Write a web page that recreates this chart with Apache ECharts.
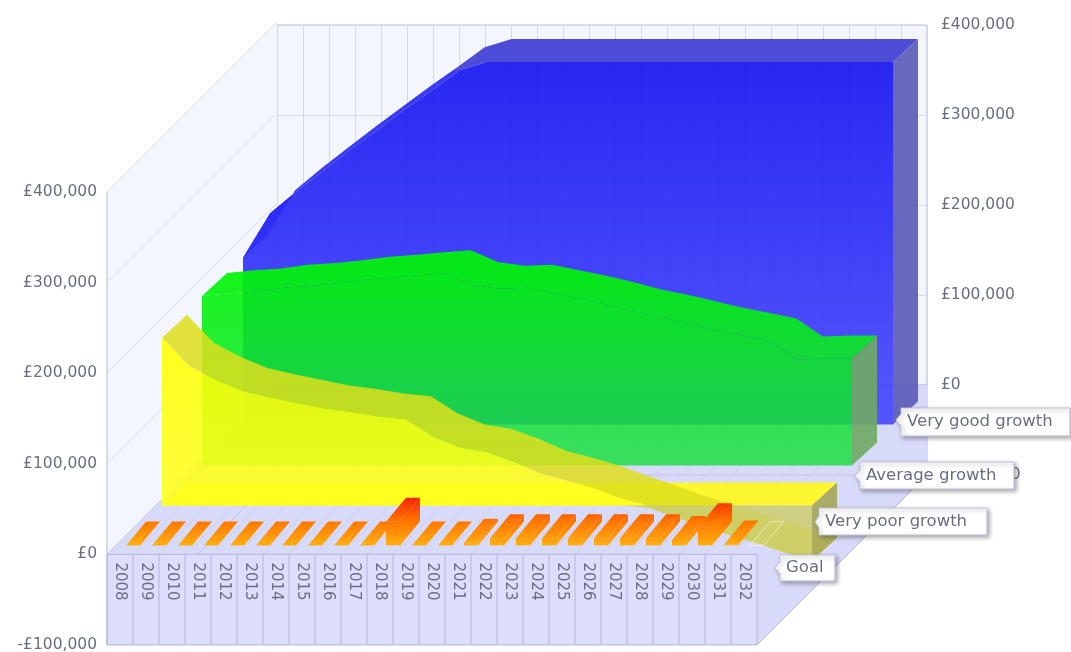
<!DOCTYPE html>
<html>
<head>
<meta charset="utf-8">
<style>html,body{margin:0;padding:0;background:#fff}#main{width:1071px;height:652px}</style>
<script src="https://cdn.jsdelivr.net/npm/echarts@6/dist/echarts.min.js"></script>
</head>
<body>
<div id="main"></div>
<script>
// values
const years = ['2008','2009','2010','2011','2012','2013','2014','2015','2016','2017','2018','2019','2020','2021','2022','2023','2024','2025','2026','2027','2028','2029','2030','2031','2032'];
const veryGood = [184000,233000,258000,281000,304000,326000,348000,369000,391000,400000,400000,400000,400000,400000,400000,400000,400000,400000,400000,400000,400000,400000,400000,400000,400000];
const average = [187000,190000,192000,196000,198000,201000,205000,207000,210000,212000,199000,195000,196000,190000,184000,177000,169000,163000,156000,149000,143000,137000,117000,118000,118000];
const veryPoor = [185000,154000,138000,126000,119000,113000,107000,103000,98000,95000,76000,64000,59000,48000,35000,27000,18000,7000,-3000,-14000,-23000,-33000,-42000,-52000,-61000];
const goal = [0,0,0,0,0,0,0,0,0,0,26000,0,0,3000,8000,8000,8000,8000,8000,8000,8000,6000,20000,1000,0];
const yTicks = [-100000,0,100000,200000,300000,400000];
const calloutNames = ['Very good growth','Average growth','Very poor growth','Goal'];

const DEPTH = 170;
const FONT = 'DejaVu Sans';
const TEXT = '#6a6e80';
const LINE = '#b4b6d6';
const LG = echarts.graphic.LinearGradient;

function money(v) {
  const s = Math.abs(v).toString().replace(/\B(?=(\d{3})+$)/g, ',');
  return (v < 0 ? '-£' : '£') + s;
}

function at(api, x, v, dx, dy) {
  const p = api.coord([x, v]);
  return [p[0] + dx, p[1] - dy];
}

function poly(points, fill, stroke) {
  return {
    type: 'polygon',
    shape: { points: points },
    style: { fill: fill, stroke: stroke || null, lineWidth: stroke ? 1 : 0 }
  };
}

function wire(a, b, color) {
  return {
    type: 'line',
    shape: { x1: a[0], y1: a[1], x2: b[0], y2: b[1] },
    style: { stroke: color || LINE, lineWidth: 1 }
  };
}

// floor, side wall and the box under zero
function renderWalls(params, api) {
  const c = [];
  const n = years.length;
  c.push(poly([at(api,0,400000,0,0), at(api,0,400000,DEPTH,DEPTH), at(api,0,-100000,DEPTH,DEPTH), at(api,0,-100000,0,0)], '#f4f6fe'));
  yTicks.forEach(v => c.push(wire(at(api,0,v,0,0), at(api,0,v,DEPTH,DEPTH), '#dcdeee')));
  c.push(poly([at(api,0,0,0,0), at(api,n,0,0,0), at(api,n,0,DEPTH,DEPTH), at(api,0,0,DEPTH,DEPTH)], '#d8daf9'));
  c.push(poly([at(api,n,0,0,0), at(api,n,0,DEPTH,DEPTH), at(api,n,-100000,DEPTH,DEPTH), at(api,n,-100000,0,0)], '#d8daf9'));
  c.push(poly([at(api,0,0,0,0), at(api,0,0,DEPTH,DEPTH), at(api,0,-100000,DEPTH,DEPTH), at(api,0,-100000,0,0)], '#d8daf9'));
  c.push(wire(at(api,0,-100000,0,0), at(api,0,-100000,DEPTH,DEPTH), '#c0c2e4'));
  c.push(wire(at(api,0,-100000,DEPTH,DEPTH), at(api,n,-100000,DEPTH,DEPTH), '#c0c2e4'));
  c.push(wire(at(api,0,0,DEPTH,DEPTH), at(api,n,0,DEPTH,DEPTH), '#c0c2e4'));
  for (let i = 0; i <= n; i++) {
    c.push(wire(at(api,i,0,0,0), at(api,i,0,DEPTH,DEPTH), '#cdcff2'));
  }
  c.push(poly([at(api,0,0,0,0), at(api,n,0,0,0), at(api,n,-100000,0,0), at(api,0,-100000,0,0)], '#dcdefb', LINE));
  for (let i = 1; i < n; i++) {
    c.push(wire(at(api,i,0,0,0), at(api,i,-100000,0,0)));
  }
  c.push(wire(at(api,0,400000,0,0), at(api,0,-100000,0,0)));
  c.push(wire(at(api,n,-100000,0,0), at(api,n,-100000,DEPTH,DEPTH)));
  return { type: 'group', children: c };
}

// year labels sit on the front of the box, so they draw after it
function renderYear(params, api) {
  const p = api.coord([api.value(0), 0]);
  return {
    type: 'text', x: p[0], y: p[1] + 8, rotation: -Math.PI / 2,
    style: { text: years[params.dataIndex], fill: TEXT, fontFamily: FONT, fontSize: 15, align: 'left', verticalAlign: 'middle' }
  };
}

// one area ribbon: base plane, top strip, end face, front face
function ribbon(values, dy, look) {
  return function (params, api) {
    const n = values.length;
    const dx = dy + 6;
    const bx = dx + 25, by = dy + 23;
    const xs = values.map((v, i) => i * n / (n - 1));
    const last = xs[n - 1];
    const front = values.map((v, i) => at(api, xs[i], v, dx, dy));
    const back = values.map((v, i) => at(api, xs[i], v, bx, by));
    const c = [];
    if (look.base) {
      c.push(poly([at(api,0,0,dx,dy), at(api,last,0,dx,dy), at(api,last,0,bx,by), at(api,0,0,bx,by)], look.base));
    }
    const top = at(api, 0, Math.max.apply(null, values), dx, dy)[1];
    const zero = at(api, 0, 0, dx, dy)[1];
    const face = new LG(0, top, 0, zero, [{ offset: 0, color: look.faceTop }, { offset: 1, color: look.faceBottom }], true);
    let strip = look.strip;
    if (look.stripTop) {
      strip = new LG(0, top - 23, 0, top + 10, [{ offset: 0, color: look.stripTop }, { offset: 0.9, color: look.stripTop }, { offset: 1, color: look.strip }], true);
    }
    c.push(poly(front.concat(back.slice().reverse()), strip || face));
    c.push(poly([front[n-1], back[n-1], at(api,last,0,bx,by), at(api,last,0,dx,dy)], look.side));
    const upper = values.map((v, i) => at(api, xs[i], Math.max(v, 0), dx, dy));
    c.push(poly(upper.concat([at(api,last,0,dx,dy), at(api,0,0,dx,dy)]), face));
    if (values.some(v => v < 0)) {
      const lower = values.map((v, i) => at(api, xs[i], Math.min(v, 0), dx, dy));
      c.push(poly(lower.concat([at(api,last,0,dx,dy), at(api,0,0,dx,dy)]), look.under));
    }
    return { type: 'group', children: c };
  };
}

// goal columns, one per year
function renderGoal(params, api) {
  const x = api.value(0), v = api.value(1);
  const a = at(api, x, v, 6, 9), b = at(api, x, v, 20, 9);
  const a0 = at(api, x, 0, 6, 9), b0 = at(api, x, 0, 20, 9);
  const c = at(api, x, v, 40, 33), d = at(api, x, v, 26, 33);
  const c0 = at(api, x, 0, 40, 33);
  if (params.dataIndex === years.length - 1) {
    return poly([a, b, c, d], 'rgba(255,255,255,0.05)', 'rgba(255,255,255,0.55)');
  }
  const fill = new LG(0, a0[1], 0, a0[1] - 50, [
    { offset: 0, color: '#ffae10' }, { offset: 0.5, color: '#ff7400' }, { offset: 1, color: '#f41c08' }
  ], true);
  return {
    type: 'group',
    children: [
      poly([b, c, c0, b0], fill),
      poly([a, b, c, d], fill),
      poly([a0, b0, b, a], fill)
    ]
  };
}

// white pointer box at the end of a series
function callout(name, tipX, tipY, x, y, w, h) {
  return {
    type: 'group',
    children: [
      {
        type: 'polygon', z: 100,
        shape: { points: [[tipX, tipY], [x, tipY - 6], [x, y], [x + w, y], [x + w, y + h], [x, y + h], [x, tipY + 6]] },
        style: { fill: '#fff', stroke: '#c0c2d8', lineWidth: 1, shadowBlur: 4, shadowOffsetX: 2, shadowOffsetY: 2, shadowColor: 'rgba(60,60,60,0.45)' }
      },
      {
        type: 'text', z: 101, x: x + 6, y: y + h / 2,
        style: { text: name, fill: TEXT, fontFamily: FONT, fontSize: 16.5, verticalAlign: 'middle' }
      }
    ]
  };
}

const one = [[0, 0]];
const option = {
  animation: false,
  backgroundColor: '#fff',
  grid: [
    { left: 107, top: 192, width: 650, height: 453, outerBoundsMode: 'none' },
    { left: 277, top: 25, width: 650, height: 450, outerBoundsMode: 'none', show: true, backgroundColor: '#f4f6fe', borderColor: LINE, borderWidth: 1 }
  ],
  xAxis: [
    {
      type: 'category', gridIndex: 0, data: years,
      axisLine: { show: false }, axisTick: { show: false }, axisLabel: { show: false }
    },
    { type: 'value', gridIndex: 0, min: 0, max: years.length, show: false, position: 'top' },
    {
      type: 'category', gridIndex: 1, data: years, position: 'top',
      axisLine: { show: false }, axisTick: { show: false }, axisLabel: { show: false },
      splitLine: { show: true, interval: 0, lineStyle: { color: '#d6d8ea' } }
    }
  ],
  yAxis: [
    {
      type: 'value', gridIndex: 0, min: -100000, max: 400000, interval: 100000,
      axisLine: { show: false }, axisTick: { show: false }, splitLine: { show: false },
      axisLabel: { formatter: money, color: TEXT, fontFamily: FONT, fontSize: 15.5, margin: 10, padding: [0, 0, 2, 0] }
    },
    {
      type: 'value', gridIndex: 1, min: -100000, max: 400000, interval: 100000, position: 'right',
      axisLine: { show: false }, axisTick: { show: false },
      splitLine: { show: true, lineStyle: { color: '#d6d8ea' } },
      axisLabel: { formatter: money, color: TEXT, fontFamily: FONT, fontSize: 15.5, margin: 14, padding: [0, 0, 3, 0] }
    }
  ],
  series: [
    { type: 'custom', name: 'walls', xAxisIndex: 1, yAxisIndex: 0, data: one, renderItem: renderWalls, silent: true },
    {
      type: 'custom', name: 'years', xAxisIndex: 1, yAxisIndex: 0, silent: true,
      data: years.map((y, i) => [i + 0.5, 0]), renderItem: renderYear
    },
    {
      type: 'custom', name: calloutNames[0], xAxisIndex: 1, yAxisIndex: 0, data: one,
      renderItem: ribbon(veryGood, 130, {
        strip: 'rgba(50,50,238,0.96)', stripTop: 'rgba(70,70,214,0.96)', side: 'rgba(96,96,186,0.95)',
        faceTop: 'rgba(22,22,240,0.92)', faceBottom: 'rgba(74,74,255,0.92)'
      })
    },
    {
      type: 'custom', name: calloutNames[1], xAxisIndex: 1, yAxisIndex: 0, data: one,
      renderItem: ribbon(average, 89, {
        side: 'rgba(112,170,100,0.92)',
        faceTop: 'rgba(0,245,5,0.92)', faceBottom: 'rgba(24,222,64,0.82)'
      })
    },
    {
      type: 'custom', name: calloutNames[2], xAxisIndex: 1, yAxisIndex: 0, data: one,
      renderItem: ribbon(veryPoor, 49, {
        base: 'rgba(255,250,30,0.92)', strip: 'rgba(222,222,28,0.85)', side: 'rgba(168,168,92,0.92)',
        under: 'rgba(205,205,110,0.85)',
        faceTop: 'rgba(255,255,0,0.88)', faceBottom: 'rgba(255,255,30,0.88)'
      })
    },
    {
      type: 'custom', name: calloutNames[3], xAxisIndex: 1, yAxisIndex: 0,
      data: goal.map((v, i) => [i + 0.5, v]), renderItem: renderGoal
    }
  ],
  graphic: [
    callout(calloutNames[0], 896, 420, 901, 408, 169, 28),
    callout(calloutNames[1], 855, 476, 860, 462, 154, 27),
    callout(calloutNames[2], 815, 522, 819, 508, 168, 27),
    callout(calloutNames[3], 775, 568, 780, 555, 55, 26)
  ]
};

const chart = echarts.init(document.getElementById('main'));
chart.setOption(option);
</script>
</body>
</html>
